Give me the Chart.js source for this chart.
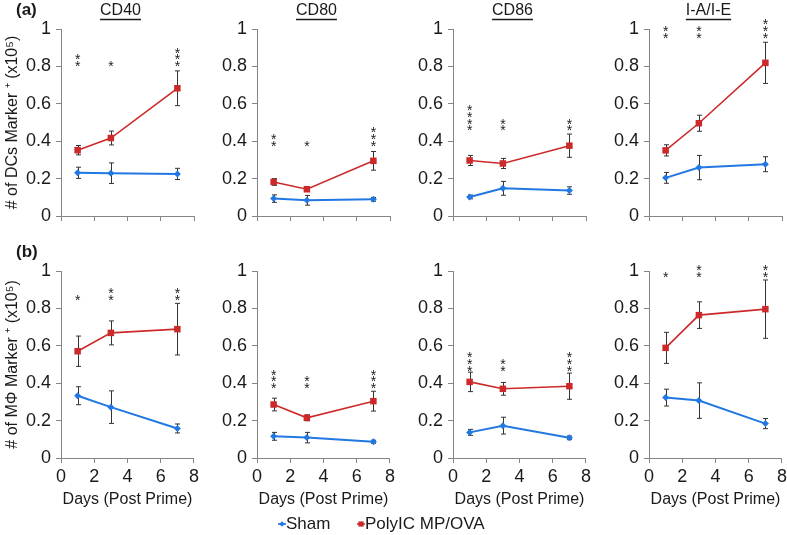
<!DOCTYPE html>
<html>
<head>
<meta charset="utf-8">
<script src="https://cdn.jsdelivr.net/npm/chart.js@4.4.0/dist/chart.umd.min.js"></script>
<style>
  body { margin: 0; background: #fff; width: 787px; height: 535px; position: relative; overflow: hidden; }
  canvas { position: absolute; }
</style>
</head>
<body>
<script>
// ---- data ----
const days = [1, 3, 7];
const markers = ["CD40", "CD80", "CD86", "I-A/I-E"];
const rowLetters = ["(a)", "(b)"];
const yTitles = ["# of DCs Marker \u207A (x10\u2075)", "# of M\u03A6 Marker \u207A (x10\u2075)"];
const xTitle = "Days (Post Prime)";
const seriesNames = ["Sham", "PolyIC MP/OVA"];

// (a) dendritic cells
const dcSham = [[0.231, 0.229, 0.225], [0.093, 0.084, 0.089], [0.102, 0.148, 0.136], [0.204, 0.259, 0.277]];
const dcShamErr = [[0.03, 0.055, 0.03], [0.02, 0.026, 0.01], [0.01, 0.037, 0.02], [0.029, 0.065, 0.04]];
const dcPoly = [[0.352, 0.417, 0.683], [0.182, 0.143, 0.295], [0.297, 0.281, 0.376], [0.351, 0.496, 0.819]];
const dcPolyErr = [[0.025, 0.037, 0.093], [0.018, 0.01, 0.05], [0.027, 0.027, 0.062], [0.03, 0.043, 0.11]];
const dcStars = [[2, 1, 3], [2, 1, 3], [4, 2, 2], [2, 2, 3]];
const dcStarLevel = [0.818, 0.392, 0.474, 0.97];

// (b) macrophages
const mpSham = [[0.333, 0.272, 0.158], [0.116, 0.109, 0.087], [0.137, 0.173, 0.108], [0.323, 0.307, 0.184]];
const mpShamErr = [[0.048, 0.087, 0.024], [0.021, 0.028, 0.008], [0.016, 0.045, 0.01], [0.045, 0.095, 0.027]];
const mpPoly = [[0.571, 0.669, 0.689], [0.286, 0.215, 0.304], [0.407, 0.37, 0.384], [0.589, 0.764, 0.796]];
const mpPolyErr = [[0.081, 0.064, 0.138], [0.034, 0.016, 0.053], [0.052, 0.034, 0.07], [0.083, 0.071, 0.156]];
const mpStars = [[1, 2, 2], [3, 2, 3], [3, 2, 3], [1, 2, 2]];
const mpStarLevel = [0.863, 0.391, 0.484, 0.987];

// ---- look ----
const FONT = "'Liberation Sans', Arial, sans-serif";
const BLUE = "#2278e2";
const RED = "#cc2a2a";
const AXIS = "#858585";
const TEXT = "#1a1a1a";
const axisX = [61, 257, 453, 649];

// error bars, asterisks, underlined titles, row letters
const decoPlugin = {
  id: "deco",
  beforeDatasetsDraw(chart) {
    const ctx = chart.ctx, xs = chart.scales.x, ys = chart.scales.y;
    ctx.save();
    ctx.strokeStyle = "#333";
    ctx.lineWidth = 1;
    chart.data.datasets.forEach(ds => {
      ds.data.forEach((p, j) => {
        const e = ds.errs[j];
        const x = Math.round(xs.getPixelForValue(p.x)) + 0.5;
        const y1 = ys.getPixelForValue(p.y + e), y2 = ys.getPixelForValue(p.y - e);
        ctx.beginPath();
        ctx.moveTo(x, y1); ctx.lineTo(x, y2);
        ctx.moveTo(x - 2.5, y1); ctx.lineTo(x + 2.5, y1);
        ctx.moveTo(x - 2.5, y2); ctx.lineTo(x + 2.5, y2);
        ctx.stroke();
      });
    });
    ctx.restore();
  },
  afterDraw(chart, args, opts) {
    const ctx = chart.ctx, xs = chart.scales.x, ys = chart.scales.y, area = chart.chartArea;
    ctx.save();
    ctx.fillStyle = TEXT;
    // asterisks
    ctx.font = "14px " + FONT;
    ctx.textAlign = "center";
    ctx.textBaseline = "alphabetic";
    const base = ys.getPixelForValue(opts.starLevel);
    opts.stars.forEach((n, j) => {
      const x = xs.getPixelForValue(days[j]);
      for (let k = 0; k < n; k++) {
        ctx.fillText("*", x, base - k * 6.7 + 8.1);
      }
    });
    // panel title
    if (opts.title) {
      ctx.font = "16px " + FONT;
      const cx = (area.left + area.right) / 2 - 7;
      ctx.fillText(opts.title, cx, 15);
      const w = ctx.measureText(opts.title).width;
      ctx.strokeStyle = TEXT;
      ctx.lineWidth = 1.3;
      ctx.beginPath();
      ctx.moveTo(cx - w / 2, 19.5); ctx.lineTo(cx + w / 2, 19.5);
      ctx.stroke();
    }
    if (opts.letter) {
      ctx.font = "bold 17px " + FONT;
      ctx.textAlign = "left";
      ctx.fillText(opts.letter, 16, opts.letterY);
    }
    ctx.restore();
  }
};

function makePanel(row, col) {
  const sham = row === 0 ? dcSham[col] : mpSham[col];
  const shamErr = row === 0 ? dcShamErr[col] : mpShamErr[col];
  const poly = row === 0 ? dcPoly[col] : mpPoly[col];
  const polyErr = row === 0 ? dcPolyErr[col] : mpPolyErr[col];
  const stars = row === 0 ? dcStars[col] : mpStars[col];
  const starLevel = row === 0 ? dcStarLevel[col] : mpStarLevel[col];

  const yW = col === 0 ? 61 : 50;
  const padTop = row === 0 ? 29 : 31;
  const xH = row === 0 ? 18 : 52;
  const cv = document.createElement("canvas");
  cv.width = yW + 133 + 8;
  cv.height = padTop + 187 + xH;
  cv.style.left = (axisX[col] - yW) + "px";
  cv.style.top = (row === 0 ? 0 : 240) + "px";
  document.body.appendChild(cv);

  new Chart(cv, {
    type: "line",
    data: {
      datasets: [
        {
          label: seriesNames[0],
          data: days.map((d, i) => ({ x: d, y: sham[i] })),
          errs: shamErr,
          borderColor: BLUE, backgroundColor: BLUE,
          borderWidth: 2, pointStyle: "rectRot", pointRadius: 3.5,
          pointBorderWidth: 0, tension: 0
        },
        {
          label: seriesNames[1],
          data: days.map((d, i) => ({ x: d, y: poly[i] })),
          errs: polyErr,
          borderColor: RED, backgroundColor: RED,
          borderWidth: 1.6, pointStyle: "rect", pointRadius: 4.6,
          pointBorderWidth: 0, tension: 0
        }
      ]
    },
    options: {
      responsive: false,
      animation: false,
      layout: { padding: { top: padTop, right: 8, left: 0, bottom: 0 } },
      plugins: {
        legend: { display: false },
        tooltip: { enabled: false },
        deco: {
          stars: stars, starLevel: starLevel,
          title: row === 0 ? markers[col] : null,
          letter: col === 0 ? rowLetters[row] : null,
          letterY: row === 0 ? 15 : 17
        }
      },
      scales: {
        x: {
          type: "linear", min: 0, max: 8,
          grid: { drawOnChartArea: false, drawTicks: true, tickLength: 5, color: AXIS },
          border: { display: true, color: AXIS, width: 1 },
          ticks: {
            stepSize: 2, color: TEXT, font: { family: FONT, size: 18 }, padding: 3,
            callback: v => row === 0 ? "" : String(v)
          },
          title: {
            display: row === 1, text: xTitle, color: TEXT,
            font: { family: FONT, size: 16 }, padding: { top: 0, bottom: 1 }
          },
          afterFit: s => { s.height = xH; }
        },
        y: {
          min: 0, max: 1,
          grid: { drawOnChartArea: false, drawTicks: true, tickLength: 5, color: AXIS },
          border: { display: true, color: AXIS, width: 1 },
          ticks: {
            stepSize: 0.2, color: TEXT, font: { family: FONT, size: 18 }, padding: 5,
            callback: v => String(+v.toFixed(1))
          },
          title: {
            display: col === 0, text: yTitles[row], color: TEXT,
            font: { family: FONT, size: 16 }, padding: { top: 3, bottom: 0 }
          },
          afterFit: s => { s.width = yW; }
        }
      }
    },
    plugins: [decoPlugin]
  });
}

for (let r = 0; r < 2; r++) {
  for (let c = 0; c < 4; c++) makePanel(r, c);
}

// shared legend under the panels
const legendX = [278, 357];
const legendPlugin = {
  id: "sharedLegend",
  afterDraw(chart) {
    const ctx = chart.ctx;
    const cy = 16;
    ctx.save();
    chart.data.datasets.forEach((ds, i) => {
      const x0 = legendX[i];
      ctx.strokeStyle = ds.borderColor;
      ctx.fillStyle = ds.borderColor;
      ctx.lineWidth = 1.6;
      ctx.beginPath();
      ctx.moveTo(x0, cy); ctx.lineTo(x0 + 8, cy);
      ctx.stroke();
      Chart.helpers.drawPoint(ctx, { pointStyle: ds.pointStyle, radius: ds.pointRadius * 0.8, borderWidth: 0 }, x0 + 4, cy);
      ctx.fillStyle = TEXT;
      ctx.font = "17px " + FONT;
      ctx.textBaseline = "middle";
      ctx.fillText(ds.label, x0 + 8, cy);
    });
    ctx.restore();
  }
};
const lg = document.createElement("canvas");
lg.width = 787; lg.height = 27;
lg.style.left = "0px"; lg.style.top = "508px";
document.body.appendChild(lg);
new Chart(lg, {
  type: "line",
  data: {
    datasets: [
      { label: seriesNames[0], data: [], borderColor: BLUE, pointStyle: "rectRot", pointRadius: 3.5 },
      { label: seriesNames[1], data: [], borderColor: RED, pointStyle: "rect", pointRadius: 4.6 }
    ]
  },
  options: {
    responsive: false, animation: false,
    scales: { x: { display: false }, y: { display: false } },
    plugins: { legend: { display: false }, tooltip: { enabled: false } }
  },
  plugins: [legendPlugin]
});
</script>
</body>
</html>
